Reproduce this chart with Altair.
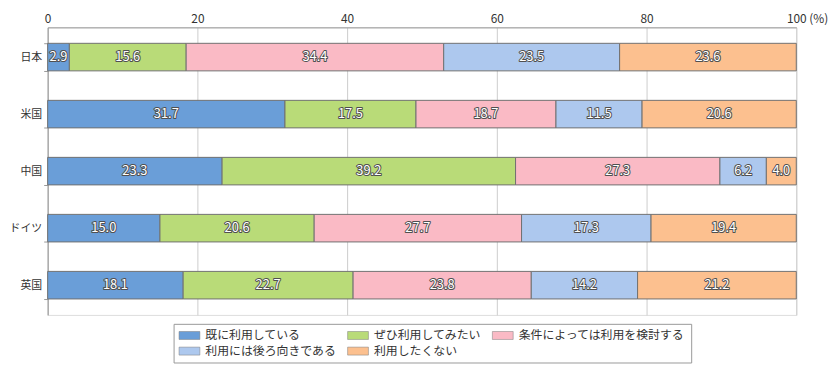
import altair as alt
import pandas as pd

countries = ["日本", "米国", "中国", "ドイツ", "英国"]
categories = ["既に利用している", "ぜひ利用してみたい", "条件によっては利用を検討する", "利用には後ろ向きである", "利用したくない"]
colors = ["#6a9ed8", "#b9db78", "#fabac5", "#adc8ee", "#fcc08f"]

v_japan = [2.9, 15.6, 34.4, 23.5, 23.6]
v_us = [31.7, 17.5, 18.7, 11.5, 20.6]
v_china = [23.3, 39.2, 27.3, 6.2, 4.0]
v_germany = [15.0, 20.6, 27.7, 17.3, 19.4]
v_uk = [18.1, 22.7, 23.8, 14.2, 21.2]

x_ticks = [0, 20, 40, 60, 80, 100]

rows = []
for c, vals in zip(countries, [v_japan, v_us, v_china, v_germany, v_uk]):
    for i, (cat, v) in enumerate(zip(categories, vals)):
        rows.append({"country": c, "category": cat, "value": v, "order": i})
df = pd.DataFrame(rows)

FONT = "Noto Sans CJK JP"

base = alt.Chart(df).transform_window(
    cum="sum(value)", groupby=["country"], sort=[alt.SortField("order")], frame=[None, 0]
).transform_calculate(
    start="datum.cum - datum.value", mid="datum.cum - datum.value / 2"
)

y_enc = alt.Y(
    "country:N",
    sort=countries,
    title=None,
    scale=alt.Scale(paddingInner=0.517, paddingOuter=0.28),
    axis=alt.Axis(
        tickBand="extent", tickSize=4, labelPadding=2, domainColor="#999999",
        tickColor="#999999", labelFontSize=11, labelColor="#333333", labelFont=FONT,
        grid=False,
    ),
)

bars = base.mark_bar(stroke="#707070", strokeWidth=1).encode(
    x=alt.X(
        "start:Q",
        scale=alt.Scale(domain=[0, 100], nice=False),
        title=None,
        axis=alt.Axis(
            orient="top", values=x_ticks, ticks=False, labelPadding=2,
            domainColor="#999999", gridColor="#cccccc", labelFontSize=12,
            labelColor="#333333", labelFont=FONT,
            labelExpr="datum.value == 100 ? '100 (%)' : datum.label",
            labelAlign={"condition": {"test": "datum.value == 100", "value": "left"}, "value": "center"},
            labelOffset={"condition": {"test": "datum.value == 100", "value": -10}, "value": 0},
        ),
    ),
    x2="cum:Q",
    y=y_enc,
    color=alt.Color(
        "category:N",
        scale=alt.Scale(domain=categories, range=colors),
        sort=categories,
        title=None,
        legend=alt.Legend(
            orient="none", legendX=127, legendY=299, direction="horizontal",
            columns=3, columnPadding=9, rowPadding=3, padding=5,
            strokeColor="#999999", labelFontSize=12, labelLimit=400,
            labelFont=FONT, labelColor="#333333", labelOffset=9.5,
            symbolType="M-1.75,-0.67H1.75V0.67H-1.75Z", symbolSize=144,
            symbolOffset=4.5,
            symbolStrokeColor="#7a7a7a", symbolStrokeWidth=0.5, symbolOpacity=1,
        ),
    ),
)

text_outline = base.mark_text(
    fontSize=13, font=FONT, stroke="#505050", strokeWidth=2, fill="#505050",
    strokeJoin="round",
).encode(
    x="mid:Q", y=alt.Y("country:N", sort=countries), text=alt.Text("value:Q", format=".1f")
)
text_fill = base.mark_text(fontSize=13, font=FONT, fill="#ffffff").encode(
    x="mid:Q", y=alt.Y("country:N", sort=countries), text=alt.Text("value:Q", format=".1f")
)

chart = alt.layer(bars, text_outline, text_fill).properties(
    width=755, height=290,
    autosize=alt.AutoSizeParams(type="none"),
    padding={"left": 40, "top": 18, "right": 35, "bottom": 50},
).configure_view(stroke=None).configure(background="#ffffff")

chart.save("out.html", embed_options={"renderer": "svg", "actions": False})
